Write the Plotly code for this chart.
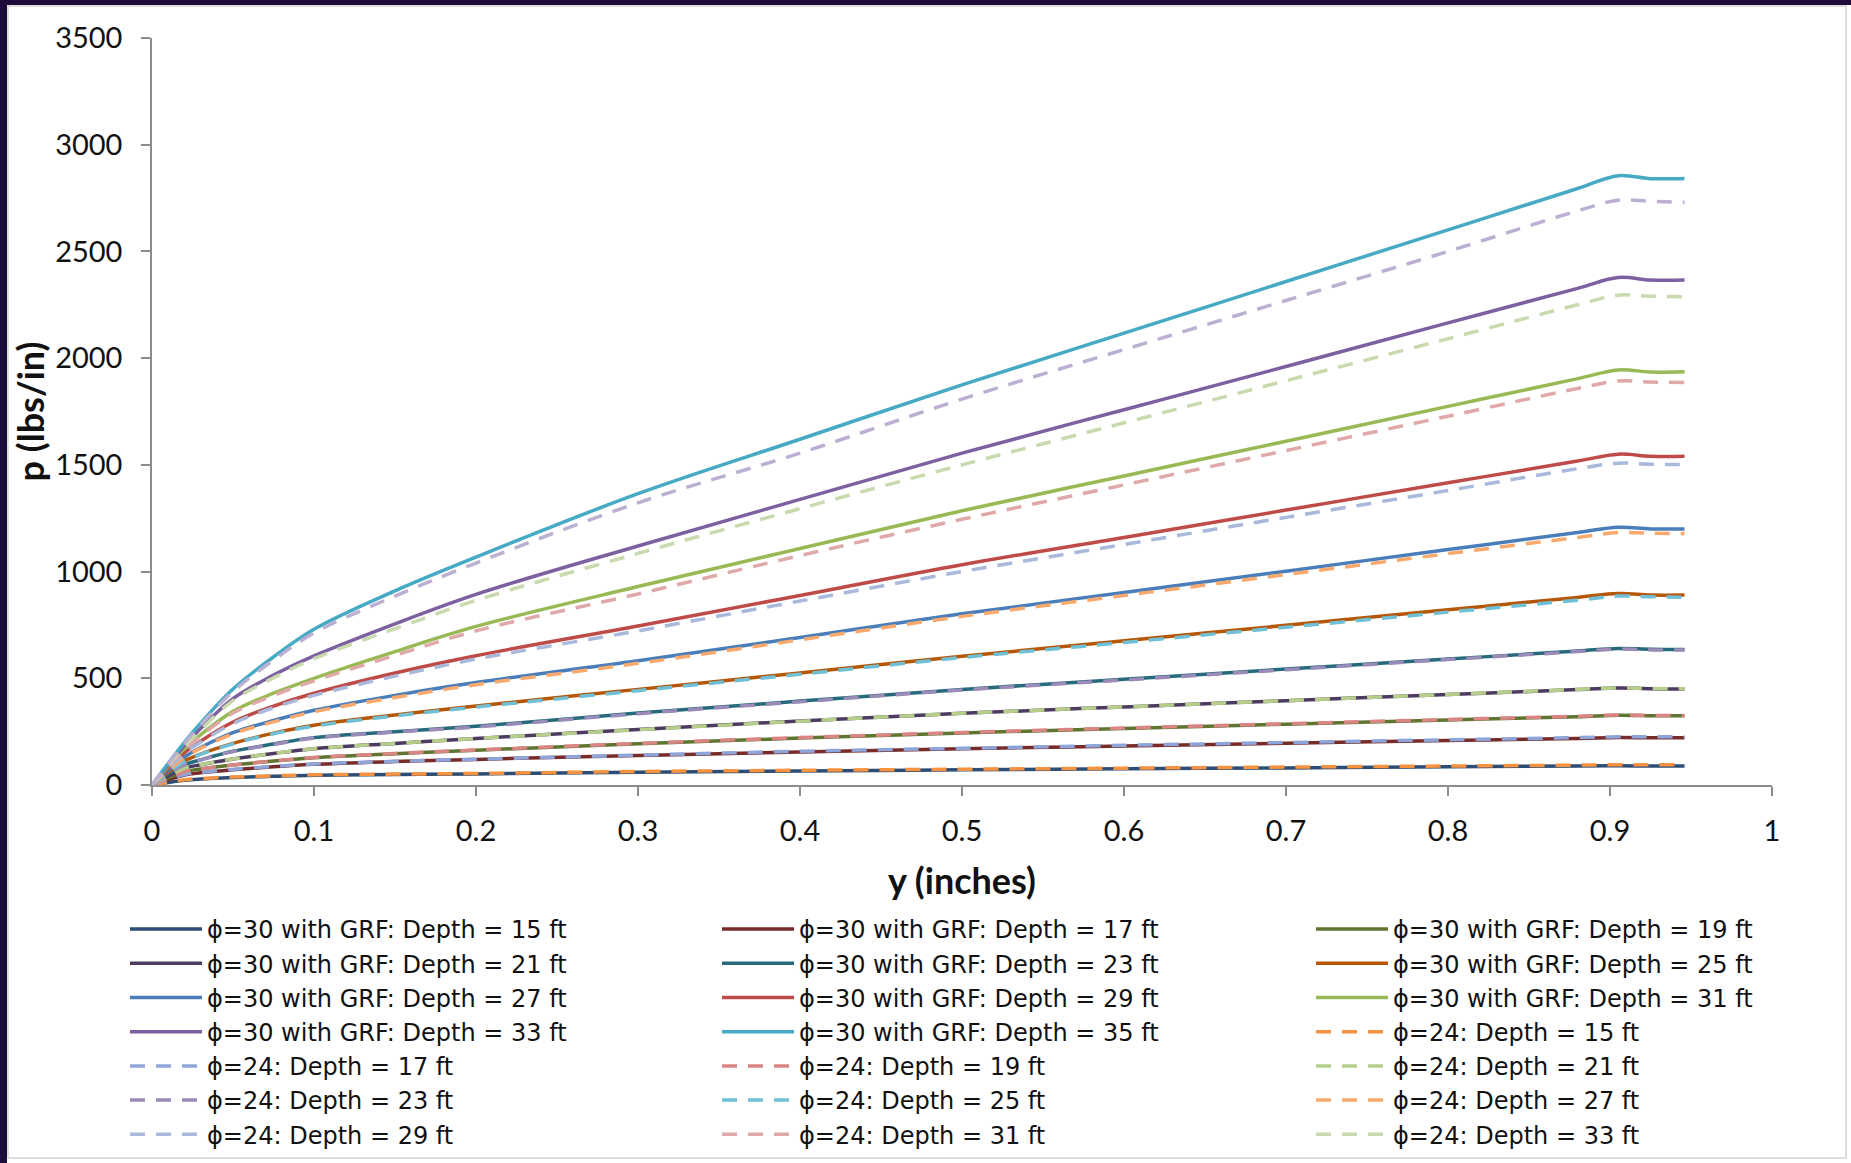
import plotly.graph_objects as go

# ---------------- data ----------------
y_in = [0, 0.02, 0.03, 0.05, 0.075, 0.1, 0.15, 0.2, 0.3, 0.4, 0.5, 0.6, 0.7, 0.8, 0.88, 0.905, 0.925, 0.946]

grf_15 = [0, 22, 28, 35, 41, 46, 49, 52, 60, 66, 71, 76, 80, 85, 89, 90, 89, 89]
grf_17 = [0, 47, 57, 71, 85, 97, 110, 120, 138, 155, 170, 183, 196, 208, 218, 222, 221, 221]
grf_19 = [0, 62, 75, 94, 112, 128, 147, 163, 193, 220, 244, 265, 285, 305, 320, 327, 325, 324]
grf_21 = [0, 78, 95, 122, 148, 170, 195, 218, 260, 300, 336, 366, 395, 424, 447, 455, 451, 450]
grf_23 = [0, 95, 118, 158, 192, 222, 250, 275, 337, 393, 448, 495, 543, 590, 628, 640, 636, 635]
grf_25 = [0, 112, 145, 195, 243, 280, 328, 370, 448, 525, 603, 676, 748, 821, 879, 897, 890, 890]
grf_27 = [0, 130, 175, 245, 302, 350, 420, 480, 582, 691, 802, 902, 1002, 1103, 1183, 1208, 1200, 1200]
grf_29 = [0, 150, 205, 295, 370, 430, 525, 606, 745, 888, 1032, 1160, 1288, 1416, 1518, 1550, 1540, 1540]
grf_31 = [0, 170, 235, 345, 430, 500, 625, 743, 930, 1108, 1285, 1448, 1611, 1774, 1904, 1945, 1935, 1936]
grf_33 = [0, 185, 265, 405, 515, 605, 755, 893, 1120, 1338, 1555, 1758, 1961, 2165, 2327, 2378, 2366, 2366]
grf_35 = [0, 200, 290, 450, 600, 730, 910, 1068, 1365, 1620, 1875, 2117, 2359, 2601, 2795, 2855, 2841, 2842]

phi24_15 = [0, 24, 30, 37, 43, 48, 51, 54, 63, 69, 74, 79, 84, 89, 93, 95, 95, 95]
phi24_17 = [0, 49, 59, 73, 87, 98, 111, 121, 140, 158, 172, 186, 199, 212, 222, 226, 226, 226]
phi24_19 = [0, 62, 75, 94, 112, 129, 148, 164, 195, 222, 246, 267, 287, 307, 322, 328, 326, 326]
phi24_21 = [0, 78, 95, 122, 148, 170, 195, 218, 259, 299, 336, 366, 395, 424, 448, 455, 452, 451]
phi24_23 = [0, 95, 118, 157, 190, 220, 248, 272, 334, 390, 445, 492, 540, 588, 625, 637, 633, 632]
phi24_25 = [0, 110, 143, 193, 240, 276, 324, 365, 442, 519, 597, 668, 739, 810, 866, 885, 882, 880]
phi24_27 = [0, 128, 172, 240, 296, 343, 410, 470, 570, 680, 790, 888, 986, 1084, 1160, 1183, 1180, 1178]
phi24_29 = [0, 147, 200, 288, 362, 420, 510, 590, 722, 862, 1000, 1127, 1254, 1380, 1482, 1508, 1503, 1502]
phi24_31 = [0, 165, 229, 337, 420, 488, 607, 722, 895, 1075, 1245, 1406, 1567, 1728, 1858, 1893, 1888, 1886]
phi24_33 = [0, 180, 258, 395, 502, 592, 732, 865, 1085, 1295, 1500, 1697, 1894, 2091, 2250, 2295, 2290, 2288]
phi24_35 = [0, 195, 282, 438, 585, 712, 885, 1040, 1322, 1555, 1808, 2040, 2270, 2500, 2690, 2740, 2735, 2730]

x_ticks = [0, 0.1, 0.2, 0.3, 0.4, 0.5, 0.6, 0.7, 0.8, 0.9, 1]
x_tick_labels = ["0", "0.1", "0.2", "0.3", "0.4", "0.5", "0.6", "0.7", "0.8", "0.9", "1"]
y_ticks = [0, 500, 1000, 1500, 2000, 2500, 3000, 3500]
y_tick_labels = ["0", "500", "1000", "1500", "2000", "2500", "3000", "3500"]

# (name, values, color, dashed, legend column, show in legend)
series = [
    ("ϕ=30 with GRF: Depth = 15 ft", grf_15, "#2C4D75", False, "legend", True),
    ("ϕ=30 with GRF: Depth = 17 ft", grf_17, "#772C2A", False, "legend2", True),
    ("ϕ=30 with GRF: Depth = 19 ft", grf_19, "#5F7530", False, "legend3", True),
    ("ϕ=30 with GRF: Depth = 21 ft", grf_21, "#4D3B62", False, "legend", True),
    ("ϕ=30 with GRF: Depth = 23 ft", grf_23, "#276A7C", False, "legend2", True),
    ("ϕ=30 with GRF: Depth = 25 ft", grf_25, "#B65708", False, "legend3", True),
    ("ϕ=30 with GRF: Depth = 27 ft", grf_27, "#4A7EBB", False, "legend", True),
    ("ϕ=30 with GRF: Depth = 29 ft", grf_29, "#BE4B48", False, "legend2", True),
    ("ϕ=30 with GRF: Depth = 31 ft", grf_31, "#98B954", False, "legend3", True),
    ("ϕ=30 with GRF: Depth = 33 ft", grf_33, "#7D60A0", False, "legend", True),
    ("ϕ=30 with GRF: Depth = 35 ft", grf_35, "#46AAC5", False, "legend2", True),
    ("ϕ=24: Depth = 15 ft", phi24_15, "#F69240", True, "legend3", True),
    ("ϕ=24: Depth = 17 ft", phi24_17, "#8EA5D9", True, "legend", True),
    ("ϕ=24: Depth = 19 ft", phi24_19, "#D98583", True, "legend2", True),
    ("ϕ=24: Depth = 21 ft", phi24_21, "#B5CF8A", True, "legend3", True),
    ("ϕ=24: Depth = 23 ft", phi24_23, "#9A8BB8", True, "legend", True),
    ("ϕ=24: Depth = 25 ft", phi24_25, "#6FC0D6", True, "legend2", True),
    ("ϕ=24: Depth = 27 ft", phi24_27, "#F9A96C", True, "legend3", True),
    ("ϕ=24: Depth = 29 ft", phi24_29, "#A8B9DC", True, "legend", True),
    ("ϕ=24: Depth = 31 ft", phi24_31, "#DEA9A8", True, "legend2", True),
    ("ϕ=24: Depth = 33 ft", phi24_33, "#C9DAAE", True, "legend3", True),
    ("ϕ=24: Depth = 35 ft", phi24_35, "#BCB0D2", True, "legend", False),
]

FONT = "Lato, 'Noto Sans', 'DejaVu Sans', sans-serif"
LEG_FONT = "'DejaVu Sans', 'Noto Sans', sans-serif"

fig = go.Figure()
for i, (name, vals, color, dashed, leg, show) in enumerate(series):
    fig.add_trace(go.Scatter(
        x=y_in, y=vals, name=name, mode="lines",
        line=dict(color=color, width=3.5, dash="15px,11px" if dashed else "solid",
                  shape="spline", smoothing=1.0),
        legend=leg, legendgroup=f"g{i}", showlegend=show,
    ))

# pixel geometry helpers (plot area: x 152..1772, y 38..785)
L, T, W, H = 152, 38, 1620, 747
def px(v):
    return (v - L) / W
def py(v):
    return (T + H - v) / H

legend_common = dict(
    xanchor="left", yanchor="top", orientation="v",
    font=dict(size=24, family=LEG_FONT, color="#111"),
    bgcolor="rgba(0,0,0,0)", borderwidth=0,
    traceorder="grouped", tracegroupgap=0, itemwidth=72,
)
leg_top = py(907)

fig.update_layout(
    width=1851, height=1163,
    margin=dict(l=L, r=1851 - L - W, t=T, b=1163 - T - H, pad=0, autoexpand=False),
    paper_bgcolor="white", plot_bgcolor="white",
    font=dict(family=FONT, color="#000"),
    xaxis=dict(
        range=[0, 1], tickmode="array", tickvals=x_ticks, ticktext=x_tick_labels,
        showgrid=False, zeroline=False, showline=True, linecolor="#8C8C8C", linewidth=1.5,
        ticks="outside", ticklen=9, tickwidth=1.5, tickcolor="#8C8C8C",
        tickfont=dict(size=29, family=FONT, color="#111"), ticklabelstandoff=10,
        title=dict(text="<b>y (inches)</b>", font=dict(size=36, family=FONT, color="#111"), standoff=23),
    ),
    yaxis=dict(
        range=[0, 3500], tickmode="array", tickvals=y_ticks, ticktext=y_tick_labels,
        showgrid=False, zeroline=False, showline=True, linecolor="#8C8C8C", linewidth=1.5,
        ticks="outside", ticklen=9, tickwidth=1.5, tickcolor="#8C8C8C",
        tickfont=dict(size=29, family=FONT, color="#111"), ticklabelstandoff=13,
        title=dict(text="<b>p (lbs/in)</b>", font=dict(size=36, family=FONT, color="#111"), standoff=0),
    ),
    legend=dict(x=px(125), y=leg_top, **legend_common),
    legend2=dict(x=px(717), y=leg_top, **legend_common),
    legend3=dict(x=px(1311), y=leg_top, **legend_common),
    shapes=[
        dict(type="rect", xref="paper", yref="paper", x0=px(8), x1=px(1846), y0=py(1158), y1=py(6),
             line=dict(color="#D4D4D4", width=1.5), fillcolor="rgba(0,0,0,0)", layer="above"),
        dict(type="rect", xref="paper", yref="paper", x0=px(0), x1=px(7), y0=py(1163), y1=py(0),
             line=dict(width=0), fillcolor="#1E0B3A", layer="above"),
        dict(type="rect", xref="paper", yref="paper", x0=px(0), x1=px(1851), y0=py(5), y1=py(0),
             line=dict(width=0), fillcolor="#1E0B3A", layer="above"),
    ],
)

fig.write_html("out.html")
